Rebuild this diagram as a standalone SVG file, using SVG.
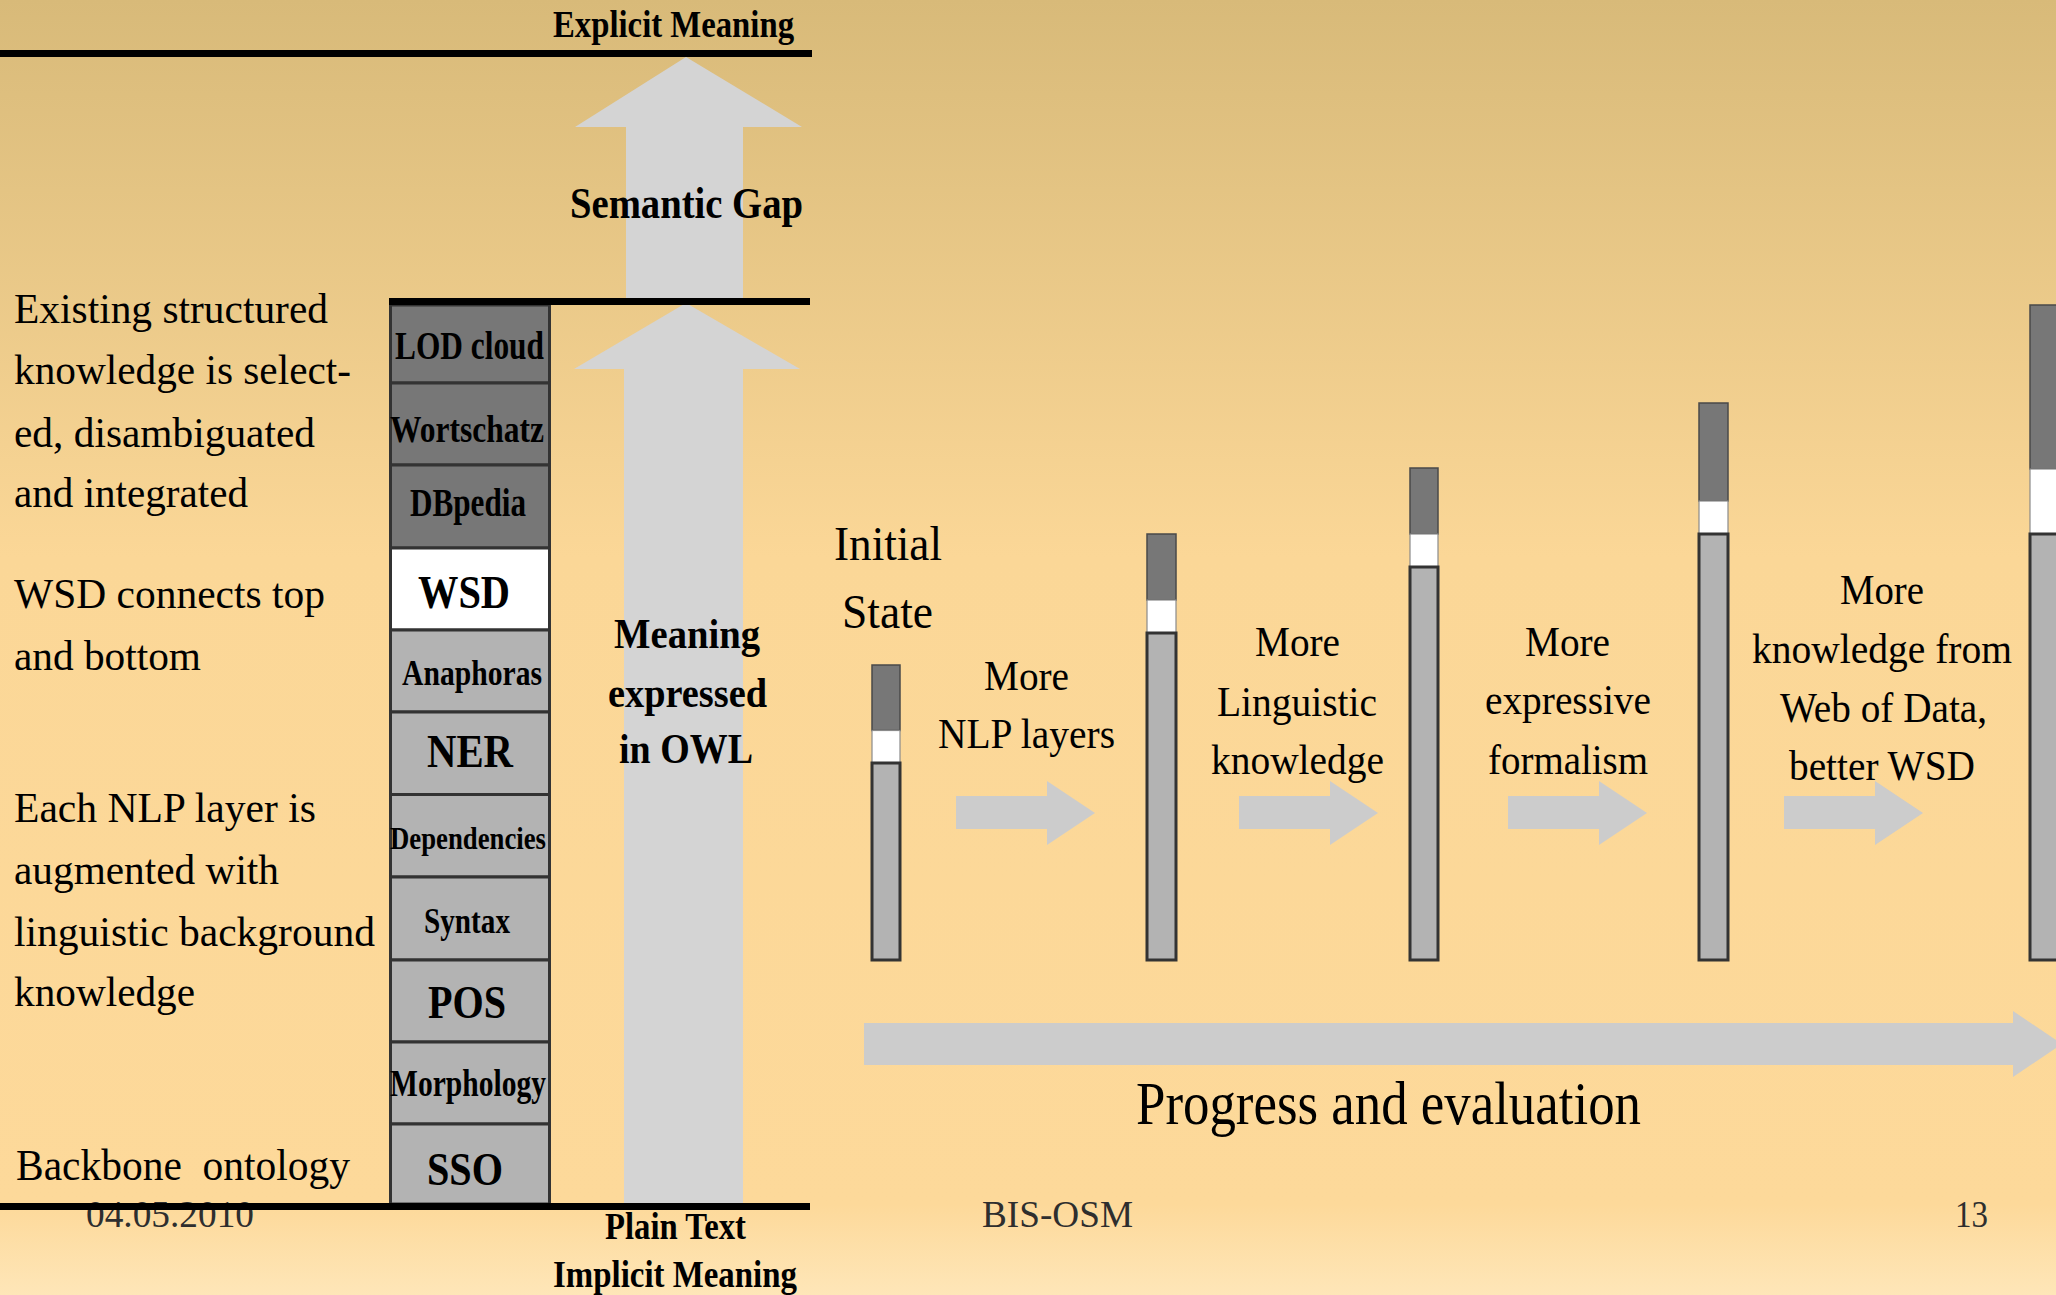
<svg xmlns="http://www.w3.org/2000/svg" width="2056" height="1295" viewBox="0 0 2056 1295">
<defs>
<linearGradient id="bg" x1="0" y1="0" x2="0" y2="1">
<stop offset="0" stop-color="#D8BA79"/>
<stop offset="0.43" stop-color="#FBD797"/>
<stop offset="0.93" stop-color="#FDD99A"/>
<stop offset="1" stop-color="#FEE6B8"/>
</linearGradient>
<style>
.r{font-family:"Liberation Serif","Times New Roman",serif;fill:#000}
.b{font-family:"Liberation Serif","Times New Roman",serif;font-weight:bold;fill:#000}
.ft{fill:#2e2e2e}
.dk{fill:#777777;stroke:#4a4a4a;stroke-width:1.5}
.wh{fill:#FFFFFF;stroke:#8a8a8a;stroke-width:1.2}
.lg{fill:#B3B3B3;stroke:#333333;stroke-width:3}
.row{stroke:#333333;stroke-width:3}
.la{fill:#D4D4D4}
.ra{fill:#CCCCCC}
.rule{fill:#000}
</style>
</defs>
<rect x="0" y="0" width="2056" height="1295" fill="url(#bg)"/>

<g id="connectors">
<polygon class="la" points="626,298 626,127 575,127 686,57 802,127 743,127 743,298"/>
<polygon class="la" points="624,1203 624,369 574,369 686,303 800,369 743,369 743,1203"/>
<polygon class="ra" points="956,796 1047,796 1047,781 1095,813 1047,845 1047,829 956,829"/>
<polygon class="ra" points="1239,796 1330,796 1330,781 1378,813 1330,845 1330,829 1239,829"/>
<polygon class="ra" points="1508,796 1599,796 1599,781 1647,813 1599,845 1599,829 1508,829"/>
<polygon class="ra" points="1784,796 1875,796 1875,781 1923,813 1875,845 1875,829 1784,829"/>
<polygon class="ra" points="864,1023 2013,1023 2013,1011 2062,1044 2013,1077 2013,1065 864,1065"/>
</g>

<g id="stack">
<g id="lod"><rect class="row" x="390.5" y="305" width="159" height="78" fill="#777777"/><text class="b" x="395" y="359" font-size="41" textLength="149" lengthAdjust="spacingAndGlyphs">LOD cloud</text></g>
<g id="wortschatz"><rect class="row" x="390.5" y="383" width="159" height="82" fill="#777777"/><text class="b" x="390" y="442" font-size="38" textLength="154" lengthAdjust="spacingAndGlyphs">Wortschatz</text></g>
<g id="dbpedia"><rect class="row" x="390.5" y="465" width="159" height="83" fill="#777777"/><text class="b" x="410" y="516" font-size="41" textLength="116" lengthAdjust="spacingAndGlyphs">DBpedia</text></g>
<g id="wsd"><rect class="row" x="390.5" y="548" width="159" height="82" fill="#FFFFFF"/><text class="b" x="418" y="608" font-size="47" textLength="92" lengthAdjust="spacingAndGlyphs">WSD</text></g>
<g id="anaphoras"><rect class="row" x="390.5" y="630" width="159" height="82" fill="#B3B3B3"/><text class="b" x="402" y="685" font-size="35" textLength="140" lengthAdjust="spacingAndGlyphs">Anaphoras</text></g>
<g id="ner"><rect class="row" x="390.5" y="712" width="159" height="82.5" fill="#B3B3B3"/><text class="b" x="427" y="767" font-size="46" textLength="86" lengthAdjust="spacingAndGlyphs">NER</text></g>
<g id="dependencies"><rect class="row" x="390.5" y="794.5" width="159" height="82.5" fill="#B3B3B3"/><text class="b" x="390" y="849" font-size="32" textLength="156" lengthAdjust="spacingAndGlyphs">Dependencies</text></g>
<g id="syntax"><rect class="row" x="390.5" y="877" width="159" height="83" fill="#B3B3B3"/><text class="b" x="424" y="933" font-size="36" textLength="86" lengthAdjust="spacingAndGlyphs">Syntax</text></g>
<g id="pos"><rect class="row" x="390.5" y="960" width="159" height="82" fill="#B3B3B3"/><text class="b" x="428" y="1018" font-size="46" textLength="78" lengthAdjust="spacingAndGlyphs">POS</text></g>
<g id="morphology"><rect class="row" x="390.5" y="1042" width="159" height="82" fill="#B3B3B3"/><text class="b" x="390" y="1096" font-size="38" textLength="156" lengthAdjust="spacingAndGlyphs">Morphology</text></g>
<g id="sso"><rect class="row" x="390.5" y="1124" width="159" height="80" fill="#B3B3B3"/><text class="b" x="427" y="1185" font-size="47" textLength="76" lengthAdjust="spacingAndGlyphs">SSO</text></g>
</g>

<g id="left-notes">
<text class="r" font-size="43" x="14" y="323" textLength="314" lengthAdjust="spacingAndGlyphs">Existing structured</text>
<text class="r" font-size="43" x="14" y="384" textLength="337" lengthAdjust="spacingAndGlyphs">knowledge is select-</text>
<text class="r" font-size="43" x="14" y="447" textLength="301" lengthAdjust="spacingAndGlyphs">ed, disambiguated</text>
<text class="r" font-size="43" x="14" y="507" textLength="234" lengthAdjust="spacingAndGlyphs">and integrated</text>
<text class="r" font-size="43" x="14" y="608" textLength="311" lengthAdjust="spacingAndGlyphs">WSD connects top</text>
<text class="r" font-size="43" x="14" y="670" textLength="187" lengthAdjust="spacingAndGlyphs">and bottom</text>
<text class="r" font-size="43" x="14" y="822" textLength="302" lengthAdjust="spacingAndGlyphs">Each NLP layer is</text>
<text class="r" font-size="43" x="14" y="884" textLength="265" lengthAdjust="spacingAndGlyphs">augmented with</text>
<text class="r" font-size="43" x="14" y="946" textLength="361" lengthAdjust="spacingAndGlyphs">linguistic background</text>
<text class="r" font-size="43" x="14" y="1006" textLength="181" lengthAdjust="spacingAndGlyphs">knowledge</text>
<text class="r" font-size="45" x="16" y="1180" textLength="334" lengthAdjust="spacingAndGlyphs">Backbone&#160; ontology</text>
</g>

<g id="gap-labels">
<text class="b" font-size="37" x="553" y="37" textLength="241" lengthAdjust="spacingAndGlyphs">Explicit Meaning</text>
<text class="b" font-size="45" x="570" y="218" textLength="233" lengthAdjust="spacingAndGlyphs">Semantic Gap</text>
<text class="b" font-size="43" x="614" y="648" textLength="146" lengthAdjust="spacingAndGlyphs">Meaning</text>
<text class="b" font-size="43" x="608" y="707" textLength="159" lengthAdjust="spacingAndGlyphs">expressed</text>
<text class="b" font-size="43" x="619" y="763" textLength="134" lengthAdjust="spacingAndGlyphs">in OWL</text>
<text class="b" font-size="37" x="605" y="1239" textLength="141" lengthAdjust="spacingAndGlyphs">Plain Text</text>
<text class="b" font-size="37" x="553" y="1287" textLength="244" lengthAdjust="spacingAndGlyphs">Implicit Meaning</text>
</g>

<g id="footer">
<text class="r ft" font-size="38" x="86" y="1227" textLength="168" lengthAdjust="spacingAndGlyphs">04.05.2010</text>
<text class="r ft" font-size="38" x="982" y="1227" textLength="151" lengthAdjust="spacingAndGlyphs">BIS-OSM</text>
<text class="r ft" font-size="38" x="1955" y="1227" textLength="33" lengthAdjust="spacingAndGlyphs">13</text>
</g>

<g id="rules">
<rect class="rule" x="0" y="50" width="812" height="7"/>
<rect class="rule" x="389" y="298" width="421" height="7"/>
<rect class="rule" x="0" y="1203" width="810" height="7"/>
</g>

<g id="bar1">
<rect class="dk" x="872" y="665" width="28" height="65.5"/>
<rect class="wh" x="872" y="730.5" width="28" height="32.5"/>
<rect class="lg" x="872" y="763" width="28" height="197"/>
</g>
<g id="bar2">
<rect class="dk" x="1147" y="534" width="29" height="66"/>
<rect class="wh" x="1147" y="600" width="29" height="33"/>
<rect class="lg" x="1147" y="633" width="29" height="327"/>
</g>
<g id="bar3">
<rect class="dk" x="1410" y="468" width="28" height="66"/>
<rect class="wh" x="1410" y="534" width="28" height="33"/>
<rect class="lg" x="1410" y="567" width="28" height="393"/>
</g>
<g id="bar4">
<rect class="dk" x="1699" y="403" width="29" height="98"/>
<rect class="wh" x="1699" y="501" width="29" height="33"/>
<rect class="lg" x="1699" y="534" width="29" height="426"/>
</g>
<g id="bar5">
<rect class="dk" x="2030" y="305" width="32" height="164"/>
<rect class="wh" x="2030" y="469" width="32" height="65"/>
<rect class="lg" x="2030" y="534" width="32" height="426"/>
</g>

<g id="stage-labels">
<text class="r" font-size="48" x="834" y="560" textLength="108" lengthAdjust="spacingAndGlyphs">Initial</text>
<text class="r" font-size="48" x="842" y="628" textLength="91" lengthAdjust="spacingAndGlyphs">State</text>
<text class="r" font-size="43" x="984" y="690" textLength="85" lengthAdjust="spacingAndGlyphs">More</text>
<text class="r" font-size="43" x="938" y="748" textLength="177" lengthAdjust="spacingAndGlyphs">NLP layers</text>
<text class="r" font-size="43" x="1255" y="656" textLength="85" lengthAdjust="spacingAndGlyphs">More</text>
<text class="r" font-size="43" x="1217" y="716" textLength="160" lengthAdjust="spacingAndGlyphs">Linguistic</text>
<text class="r" font-size="43" x="1211" y="774" textLength="173" lengthAdjust="spacingAndGlyphs">knowledge</text>
<text class="r" font-size="43" x="1525" y="656" textLength="85" lengthAdjust="spacingAndGlyphs">More</text>
<text class="r" font-size="43" x="1485" y="714" textLength="166" lengthAdjust="spacingAndGlyphs">expressive</text>
<text class="r" font-size="43" x="1488" y="774" textLength="160" lengthAdjust="spacingAndGlyphs">formalism</text>
<text class="r" font-size="43" x="1840" y="604" textLength="84" lengthAdjust="spacingAndGlyphs">More</text>
<text class="r" font-size="43" x="1752" y="663" textLength="260" lengthAdjust="spacingAndGlyphs">knowledge from</text>
<text class="r" font-size="43" x="1780" y="722" textLength="207" lengthAdjust="spacingAndGlyphs">Web of Data,</text>
<text class="r" font-size="43" x="1789" y="780" textLength="186" lengthAdjust="spacingAndGlyphs">better WSD</text>
<text class="r" font-size="62" x="1136" y="1124" textLength="505" lengthAdjust="spacingAndGlyphs">Progress and evaluation</text>
</g>
</svg>
